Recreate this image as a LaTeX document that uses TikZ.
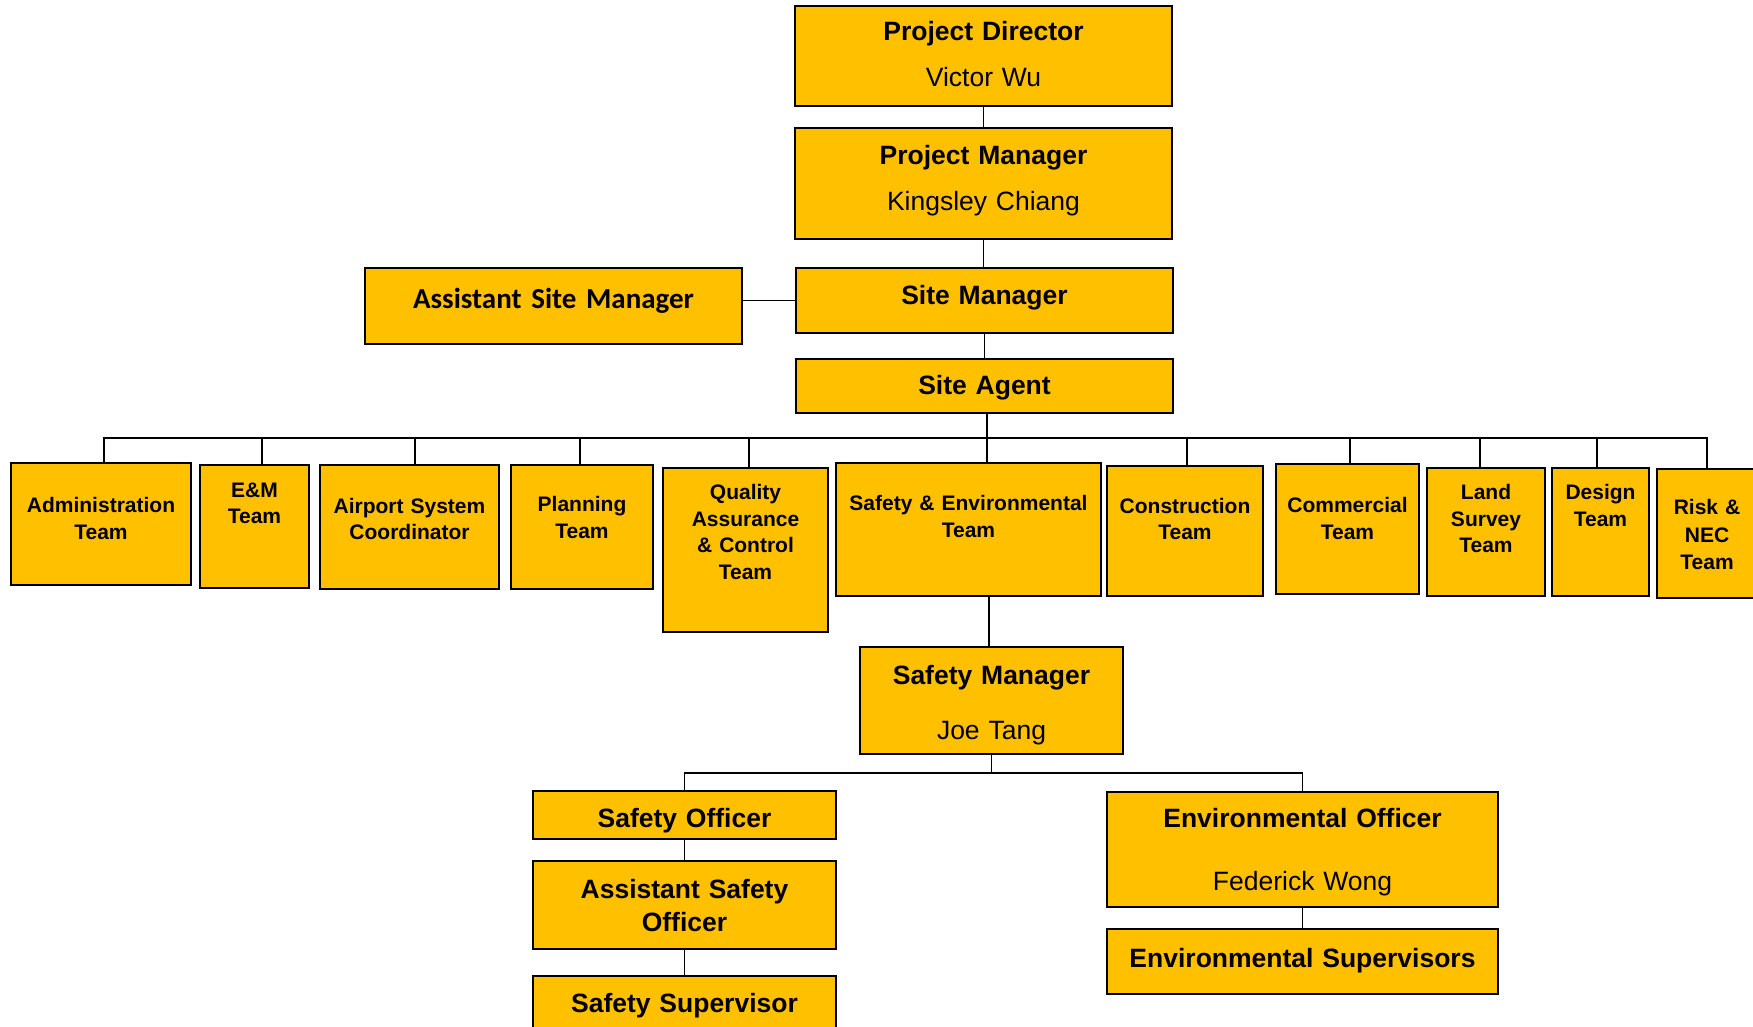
\documentclass[tikz,border=0pt]{standalone}
\usepackage{fontspec}
\setmainfont{Liberation Sans}
\newfontfamily\calibfont{Carlito}
\definecolor{gold}{HTML}{FFC000}
\newcommand\obox[5]{\node[obox, minimum width={(#4)-(#2)}, minimum height={(#5)-(#3)}] (#1) at ({((#2)+(#4))/2},{((#3)+(#5))/2}) {};}
\begin{document}
\begin{tikzpicture}[x=1pt,y=-1pt,
  obox/.style={draw=black, line width=2pt, fill=gold, inner sep=0pt, rectangle},
  lbl/.style={anchor=base, inner sep=0pt, align=center, text width=#1},
  bigb/.style={font=\bfseries\fontsize{26.5}{32}\selectfont},
  small/.style={font=\bfseries\fontsize{21}{26.5}\selectfont},
  conn/.style={line width=1.6pt}]
\path[use as bounding box, fill=white] (0,0) rectangle (1753,1027);
% boxes
\obox{pd}{795}{6}{1172}{106}
\obox{pm}{795}{128}{1172}{239}
\obox{sm}{796}{268}{1173}{333}
\obox{asm}{365}{268}{742}{344}
\obox{sa}{796}{359}{1173}{413}
\obox{adm}{11}{463}{191}{585}
\obox{em}{200}{465}{309}{588}
\obox{air}{320}{465}{499}{589}
\obox{plan}{511}{465}{653}{589}
\obox{qa}{663}{468}{828}{632}
\obox{se}{836}{463}{1101}{596}
\obox{cons}{1107}{466}{1263}{596}
\obox{comm}{1276}{464}{1419}{594}
\obox{land}{1427}{468}{1545}{596}
\obox{des}{1552}{468}{1649}{596}
\obox{risk}{1657}{469}{1757}{598}
\obox{sfm}{860}{647}{1123}{754}
\obox{so}{533}{791}{836}{839}
\obox{aso}{533}{861}{836}{949}
\obox{ss}{533}{976}{836}{1045}
\obox{eo}{1107}{792}{1498}{907}
\obox{es}{1107}{929}{1498}{994}
% texts
\node[lbl=370pt,bigb] (pd-t) at (983.5,40.5) {Project Director\\[14pt]\mdseries Victor Wu};
\node[lbl=370pt,bigb] (pm-t) at (983.5,165) {Project Manager\\[14pt]\mdseries Kingsley Chiang};
\node[lbl=370pt,bigb] (sm-t) at (984.5,304) {Site Manager};
\node[lbl=370pt,font=\calibfont\bfseries\fontsize{29}{34}\selectfont] (asm-t) at (553.5,308) {Assistant Site Manager};
\node[lbl=370pt,bigb] (sa-t) at (984.5,394.5) {Site Agent};
\node[lbl=176pt,small] (adm-t) at (101,512.5) {Administration\\Team};
\node[lbl=105pt,small] (em-t) at (254.5,497) {E\&M\\Team};
\node[lbl=175pt,small] (air-t) at (409.5,513) {Airport System\\Coordinator};
\node[lbl=138pt,small] (plan-t) at (582,511.5) {Planning\\Team};
\node[lbl=160pt,small] (qa-t) at (745.5,499.5) {Quality\\Assurance\\\& Control\\Team};
\node[lbl=260pt,small] (se-t) at (968.5,510.5) {Safety \& Environmental\\Team};
\node[lbl=152pt,small] (cons-t) at (1185,513) {Construction\\Team};
\node[lbl=140pt,small] (comm-t) at (1347.5,512.5) {Commercial\\Team};
\node[lbl=114pt,small] (land-t) at (1486,499.5) {Land\\Survey\\Team};
\node[lbl=94pt,small] (des-t) at (1600.5,499.5) {Design\\Team};
\node[lbl=96pt,font=\bfseries\fontsize{21}{27.5}\selectfont] (risk-t) at (1707,514.5) {Risk \&\\NEC\\Team};
\node[lbl=260pt,bigb] (sfm-t) at (991.5,684.5) {Safety Manager\\[23pt]\mdseries Joe Tang};
\node[lbl=300pt,bigb] (so-t) at (684.5,827.5) {Safety Officer};
\node[lbl=300pt,font=\bfseries\fontsize{26.5}{33}\selectfont] (aso-t) at (684.5,898) {Assistant Safety\\Officer};
\node[lbl=300pt,bigb] (ss-t) at (684.5,1012.5) {Safety Supervisor};
\node[lbl=385pt,bigb] (eo-t) at (1302.5,827.5) {Environmental Officer\\[31pt]\mdseries Federick Wong};
\node[lbl=385pt,bigb] (es-t) at (1302.5,967) {Environmental Supervisors};
% connectors
\coordinate (bus) at (0,438);
\coordinate (sbus) at (0,773);
\begin{scope}[conn]
\draw (pd.south) -- (pm.north);
\draw (pm.south) -- (pm.south |- sm.north);
\draw (sm.west) -- (sm.west -| asm.east);
\draw (sm.south) -- (sa.north);
\draw ([xshift=2.5pt]sa.south) -- ([xshift=2.5pt]sa.south |- se.north);
\draw ([xshift=3pt]adm.north) -- ([xshift=3pt]adm.north |- bus) -- (risk.north |- bus) -- (risk.north);
\draw ([xshift=7.5pt]em.north) -- ([xshift=7.5pt]em.north |- bus);
\draw ([xshift=5.5pt]air.north) -- ([xshift=5.5pt]air.north |- bus);
\draw ([xshift=-2pt]plan.north) -- ([xshift=-2pt]plan.north |- bus);
\draw ([xshift=3.5pt]qa.north) -- ([xshift=3.5pt]qa.north |- bus);
\draw ([xshift=2pt]cons.north) -- ([xshift=2pt]cons.north |- bus);
\draw ([xshift=2.5pt]comm.north) -- ([xshift=2.5pt]comm.north |- bus);
\draw ([xshift=-6pt]land.north) -- ([xshift=-6pt]land.north |- bus);
\draw ([xshift=-3.5pt]des.north) -- ([xshift=-3.5pt]des.north |- bus);
\draw ([xshift=-2.5pt]sfm.north) -- ([xshift=-2.5pt]sfm.north |- se.south);
\draw (sfm.south) -- (sfm.south |- sbus);
\draw (so.north) -- (so.north |- sbus) -- (eo.north |- sbus) -- (eo.north);
\draw (so.south) -- (aso.north);
\draw (aso.south) -- (ss.north);
\draw (eo.south) -- (es.north);
\end{scope}
\end{tikzpicture}
\end{document}
